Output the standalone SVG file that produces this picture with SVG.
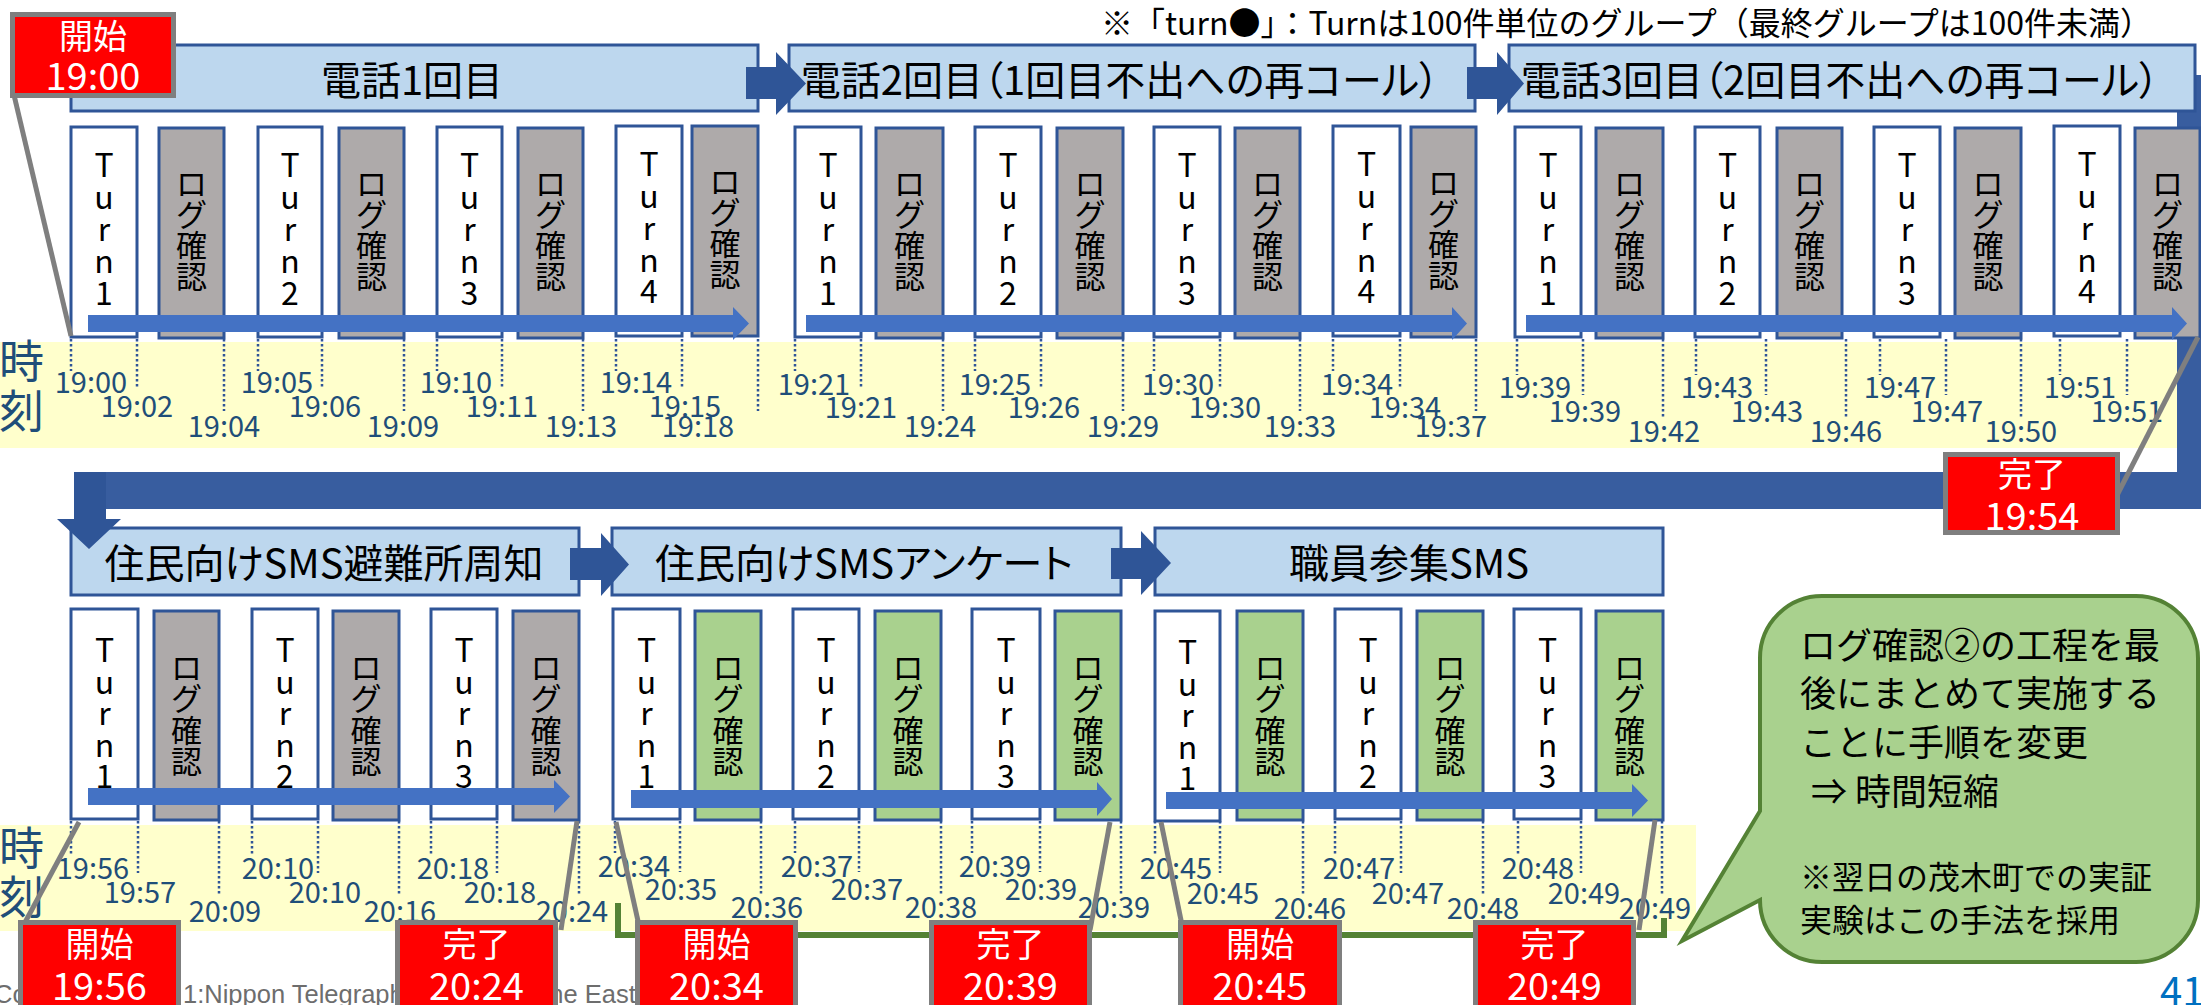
<svg xmlns="http://www.w3.org/2000/svg" width="2201" height="1005" viewBox="0 0 2201 1005">
<defs>
<style>
text{font-family:"Noto Sans CJK JP","Noto Sans",sans-serif}
.hdr{fill:#bdd7ee;stroke:#2f5597;stroke-width:3}
.ht{font-size:40px;text-anchor:middle;fill:#000;font-feature-settings:"palt" 1}
.turn{fill:#fff;stroke:#2f5597;stroke-width:3}
.lg{fill:#aeaaaa;stroke:#2f5597;stroke-width:3}
.lgg{fill:#a9d18e;stroke:#2f5597;stroke-width:3}
.bt{font-size:32px;text-anchor:middle;fill:#000}
.lt{font-size:31px;text-anchor:middle;fill:#000}
.tm{font-size:29px;text-anchor:middle;fill:#1f4e79}
.guide{stroke:#2f5597;stroke-width:2.5;stroke-dasharray:2.5 2.5;fill:none}
.band{fill:#ffffcc}
.jk{font-size:45px;fill:#1f4e79}
.blk{fill:#2f5597}
.trunk{fill:#385d9f}
.flow{fill:#4472c4}
.lead{stroke:#7f7f7f;stroke-width:5;fill:none}
.mk rect{fill:#ff0000;stroke:#7f7f7f;stroke-width:5}
.mk text{fill:#fff;text-anchor:middle}
.m1{font-size:34px}
.m2{font-size:38px}
.co{fill:#000}
</style>
</defs>

<rect x="0" y="0" width="2201" height="1005" fill="#fff"/>

<!-- time bands -->
<g id="bands">
<rect class="band" x="0" y="342" width="2177" height="106"/>
<rect class="band" x="0" y="825" width="1696" height="106"/>
<text class="jk" x="-1" y="378">時</text>
<text class="jk" x="-1" y="428">刻</text>
<text class="jk" x="-1" y="865">時</text>
<text class="jk" x="-1" y="914">刻</text>
</g>

<text y="1003" style="font-family:'Liberation Sans',sans-serif;font-size:25.5px;fill:#6d6d6d"><tspan x="-6">Copyright © 202</tspan><tspan x="183">1:Nippon Telegraph and Telephone East Corporation</tspan></text>

<!-- bent connector trunk from the phone row to the SMS row -->
<g id="connectors-back">
<path class="trunk" d="M2177,75 H2201 V509 H74 V472 H2177 Z"/>
</g>

<!-- dotted time guides -->
<g id="guides" class="guide">
<path d="M71,339V371M258,339V371M437,339V371M616,339V371M137,339V389M322,339V389M502,339V389M682,339V389M224,339V411M404,339V411M583,339V411M758,339V411"/>
<path d="M795,339V371M975,339V371M1154,339V371M1333,339V371M861,339V389M1041,339V389M1220,339V389M1400,339V389M943,339V411M1123,339V411M1300,339V411M1476,339V411"/>
<path d="M1517,339V375M1696,339V375M1880,339V375M2060,339V375M1583,339V395M1766,339V395M1946,339V395M2127,339V395M1663,339V417M1846,339V417M2021,339V417"/>
<path d="M71,821V855M252,821V855M431,821V855M138,821V873M318,821V873M497,821V873M219,821V896M399,821V896M579,821V896"/>
<path d="M615,821V853M795,821V853M972,821V853M680,821V872M859,821V872M1040,821V872M761,821V895M941,821V895M1121,821V895"/>
<path d="M1155,821V855M1335,821V855M1518,821V855M1220,821V873M1401,821V873M1581,821V873M1303,821V896M1483,821V896M1662,821V896"/>
</g>

<!-- time stamps -->
<g id="times">
<text class="tm" x="91" y="393">19:00</text>
<text class="tm" x="277" y="393">19:05</text>
<text class="tm" x="456" y="393">19:10</text>
<text class="tm" x="636" y="393">19:14</text>
<text class="tm" x="137" y="417">19:02</text>
<text class="tm" x="325" y="417">19:06</text>
<text class="tm" x="502" y="417">19:11</text>
<text class="tm" x="685" y="417">19:15</text>
<text class="tm" x="224" y="437">19:04</text>
<text class="tm" x="403" y="437">19:09</text>
<text class="tm" x="581" y="437">19:13</text>
<text class="tm" x="698" y="437">19:18</text>

<text class="tm" x="814" y="395">19:21</text>
<text class="tm" x="995" y="395">19:25</text>
<text class="tm" x="1178" y="395">19:30</text>
<text class="tm" x="1357" y="395">19:34</text>
<text class="tm" x="861" y="418">19:21</text>
<text class="tm" x="1044" y="418">19:26</text>
<text class="tm" x="1225" y="418">19:30</text>
<text class="tm" x="1405" y="418">19:34</text>
<text class="tm" x="940" y="437">19:24</text>
<text class="tm" x="1123" y="437">19:29</text>
<text class="tm" x="1300" y="437">19:33</text>
<text class="tm" x="1451" y="437">19:37</text>

<text class="tm" x="1535" y="398">19:39</text>
<text class="tm" x="1717" y="398">19:43</text>
<text class="tm" x="1900" y="398">19:47</text>
<text class="tm" x="2080" y="398">19:51</text>
<text class="tm" x="1585" y="422">19:39</text>
<text class="tm" x="1767" y="422">19:43</text>
<text class="tm" x="1947" y="422">19:47</text>
<text class="tm" x="2127" y="422">19:51</text>
<text class="tm" x="1664" y="442">19:42</text>
<text class="tm" x="1846" y="442">19:46</text>
<text class="tm" x="2021" y="442">19:50</text>

<text class="tm" x="93" y="879">19:56</text>
<text class="tm" x="278" y="879">20:10</text>
<text class="tm" x="453" y="879">20:18</text>
<text class="tm" x="140" y="903">19:57</text>
<text class="tm" x="325" y="903">20:10</text>
<text class="tm" x="500" y="903">20:18</text>
<text class="tm" x="225" y="922">20:09</text>
<text class="tm" x="400" y="922">20:16</text>
<text class="tm" x="572" y="922">20:24</text>

<text class="tm" x="634" y="877">20:34</text>
<text class="tm" x="817" y="877">20:37</text>
<text class="tm" x="995" y="877">20:39</text>
<text class="tm" x="681" y="900">20:35</text>
<text class="tm" x="867" y="900">20:37</text>
<text class="tm" x="1041" y="900">20:39</text>
<text class="tm" x="767" y="918">20:36</text>
<text class="tm" x="941" y="918">20:38</text>
<text class="tm" x="1114" y="918">20:39</text>

<text class="tm" x="1176" y="879">20:45</text>
<text class="tm" x="1359" y="879">20:47</text>
<text class="tm" x="1538" y="879">20:48</text>
<text class="tm" x="1223" y="904">20:45</text>
<text class="tm" x="1408" y="904">20:47</text>
<text class="tm" x="1584" y="904">20:49</text>
<text class="tm" x="1310" y="919">20:46</text>
<text class="tm" x="1483" y="919">20:48</text>
<text class="tm" x="1655" y="919">20:49</text>
</g>

<!-- phase headers -->
<g id="call1"><rect class="hdr" x="71" y="45" width="687" height="66"/><text class="ht" x="412" y="95">電話1回目</text></g>
<g id="call2"><rect class="hdr" x="789" y="45" width="686" height="66"/><text class="ht" x="1120" y="95">電話2回目（1回目不出への再コール）</text></g>
<g id="call3"><rect class="hdr" x="1509" y="45" width="686" height="66"/><text class="ht" x="1840" y="95">電話3回目（2回目不出への再コール）</text></g>
<g id="sms-shelter"><rect class="hdr" x="71" y="528" width="508" height="67"/><text class="ht" x="324" y="578">住民向けSMS避難所周知</text></g>
<g id="sms-survey"><rect class="hdr" x="612" y="528" width="509" height="67"/><text class="ht" x="864" y="578">住民向けSMSアンケート</text></g>
<g id="sms-staff"><rect class="hdr" x="1155" y="528" width="508" height="67"/><text class="ht" x="1409" y="578">職員参集SMS</text></g>

<!-- call round 1 -->
<g id="c1-turn1"><rect class="turn" x="71" y="127" width="66" height="210"/><text class="bt"><tspan x="104" y="177">T</tspan><tspan x="104" y="209">u</tspan><tspan x="104" y="241">r</tspan><tspan x="104" y="273">n</tspan><tspan x="104" y="305">1</tspan></text></g>
<g id="c1-log1"><rect class="lg" x="159" y="128" width="65" height="210"/><text class="lt"><tspan x="191.5" y="195">ロ</tspan><tspan x="191.5" y="226">グ</tspan><tspan x="191.5" y="257">確</tspan><tspan x="191.5" y="288">認</tspan></text></g>
<g id="c1-turn2"><rect class="turn" x="258" y="127" width="64" height="210"/><text class="bt"><tspan x="290" y="177">T</tspan><tspan x="290" y="209">u</tspan><tspan x="290" y="241">r</tspan><tspan x="290" y="273">n</tspan><tspan x="290" y="305">2</tspan></text></g>
<g id="c1-log2"><rect class="lg" x="339" y="128" width="65" height="210"/><text class="lt"><tspan x="371.5" y="195">ロ</tspan><tspan x="371.5" y="226">グ</tspan><tspan x="371.5" y="257">確</tspan><tspan x="371.5" y="288">認</tspan></text></g>
<g id="c1-turn3"><rect class="turn" x="437" y="127" width="65" height="210"/><text class="bt"><tspan x="469.5" y="177">T</tspan><tspan x="469.5" y="209">u</tspan><tspan x="469.5" y="241">r</tspan><tspan x="469.5" y="273">n</tspan><tspan x="469.5" y="305">3</tspan></text></g>
<g id="c1-log3"><rect class="lg" x="518" y="128" width="65" height="210"/><text class="lt"><tspan x="550.5" y="195">ロ</tspan><tspan x="550.5" y="226">グ</tspan><tspan x="550.5" y="257">確</tspan><tspan x="550.5" y="288">認</tspan></text></g>
<g id="c1-turn4"><rect class="turn" x="616" y="126" width="66" height="210"/><text class="bt"><tspan x="649" y="176">T</tspan><tspan x="649" y="208">u</tspan><tspan x="649" y="240">r</tspan><tspan x="649" y="272">n</tspan><tspan x="649" y="303">4</tspan></text></g>
<g id="c1-log4"><rect class="lg" x="692" y="126" width="66" height="210"/><text class="lt"><tspan x="725" y="193">ロ</tspan><tspan x="725" y="224">グ</tspan><tspan x="725" y="255">確</tspan><tspan x="725" y="286">認</tspan></text></g>

<!-- call round 2 -->
<g id="c2-turn1"><rect class="turn" x="795" y="127" width="66" height="210"/><text class="bt"><tspan x="828" y="177">T</tspan><tspan x="828" y="209">u</tspan><tspan x="828" y="241">r</tspan><tspan x="828" y="273">n</tspan><tspan x="828" y="305">1</tspan></text></g>
<g id="c2-log1"><rect class="lg" x="876" y="128" width="67" height="210"/><text class="lt"><tspan x="909.5" y="195">ロ</tspan><tspan x="909.5" y="226">グ</tspan><tspan x="909.5" y="257">確</tspan><tspan x="909.5" y="288">認</tspan></text></g>
<g id="c2-turn2"><rect class="turn" x="975" y="127" width="66" height="210"/><text class="bt"><tspan x="1008" y="177">T</tspan><tspan x="1008" y="209">u</tspan><tspan x="1008" y="241">r</tspan><tspan x="1008" y="273">n</tspan><tspan x="1008" y="305">2</tspan></text></g>
<g id="c2-log2"><rect class="lg" x="1057" y="128" width="66" height="210"/><text class="lt"><tspan x="1090" y="195">ロ</tspan><tspan x="1090" y="226">グ</tspan><tspan x="1090" y="257">確</tspan><tspan x="1090" y="288">認</tspan></text></g>
<g id="c2-turn3"><rect class="turn" x="1154" y="127" width="66" height="210"/><text class="bt"><tspan x="1187" y="177">T</tspan><tspan x="1187" y="209">u</tspan><tspan x="1187" y="241">r</tspan><tspan x="1187" y="273">n</tspan><tspan x="1187" y="305">3</tspan></text></g>
<g id="c2-log3"><rect class="lg" x="1235" y="128" width="65" height="210"/><text class="lt"><tspan x="1267.5" y="195">ロ</tspan><tspan x="1267.5" y="226">グ</tspan><tspan x="1267.5" y="257">確</tspan><tspan x="1267.5" y="288">認</tspan></text></g>
<g id="c2-turn4"><rect class="turn" x="1333" y="126" width="67" height="210"/><text class="bt"><tspan x="1366.5" y="176">T</tspan><tspan x="1366.5" y="208">u</tspan><tspan x="1366.5" y="240">r</tspan><tspan x="1366.5" y="272">n</tspan><tspan x="1366.5" y="303">4</tspan></text></g>
<g id="c2-log4"><rect class="lg" x="1411" y="127" width="65" height="210"/><text class="lt"><tspan x="1443.5" y="194">ロ</tspan><tspan x="1443.5" y="225">グ</tspan><tspan x="1443.5" y="256">確</tspan><tspan x="1443.5" y="287">認</tspan></text></g>

<!-- call round 3 -->
<g id="c3-turn1"><rect class="turn" x="1515" y="127" width="66" height="210"/><text class="bt"><tspan x="1548" y="177">T</tspan><tspan x="1548" y="209">u</tspan><tspan x="1548" y="241">r</tspan><tspan x="1548" y="273">n</tspan><tspan x="1548" y="305">1</tspan></text></g>
<g id="c3-log1"><rect class="lg" x="1596" y="128" width="67" height="210"/><text class="lt"><tspan x="1629.5" y="195">ロ</tspan><tspan x="1629.5" y="226">グ</tspan><tspan x="1629.5" y="257">確</tspan><tspan x="1629.5" y="288">認</tspan></text></g>
<g id="c3-turn2"><rect class="turn" x="1695" y="127" width="65" height="210"/><text class="bt"><tspan x="1727.5" y="177">T</tspan><tspan x="1727.5" y="209">u</tspan><tspan x="1727.5" y="241">r</tspan><tspan x="1727.5" y="273">n</tspan><tspan x="1727.5" y="305">2</tspan></text></g>
<g id="c3-log2"><rect class="lg" x="1777" y="128" width="65" height="210"/><text class="lt"><tspan x="1809.5" y="195">ロ</tspan><tspan x="1809.5" y="226">グ</tspan><tspan x="1809.5" y="257">確</tspan><tspan x="1809.5" y="288">認</tspan></text></g>
<g id="c3-turn3"><rect class="turn" x="1874" y="127" width="66" height="210"/><text class="bt"><tspan x="1907" y="177">T</tspan><tspan x="1907" y="209">u</tspan><tspan x="1907" y="241">r</tspan><tspan x="1907" y="273">n</tspan><tspan x="1907" y="305">3</tspan></text></g>
<g id="c3-log3"><rect class="lg" x="1955" y="128" width="66" height="210"/><text class="lt"><tspan x="1988" y="195">ロ</tspan><tspan x="1988" y="226">グ</tspan><tspan x="1988" y="257">確</tspan><tspan x="1988" y="288">認</tspan></text></g>
<g id="c3-turn4"><rect class="turn" x="2054" y="126" width="66" height="210"/><text class="bt"><tspan x="2087" y="176">T</tspan><tspan x="2087" y="208">u</tspan><tspan x="2087" y="240">r</tspan><tspan x="2087" y="272">n</tspan><tspan x="2087" y="303">4</tspan></text></g>
<g id="c3-log4"><rect class="lg" x="2135" y="128" width="65" height="210"/><text class="lt"><tspan x="2167.5" y="195">ロ</tspan><tspan x="2167.5" y="226">グ</tspan><tspan x="2167.5" y="257">確</tspan><tspan x="2167.5" y="288">認</tspan></text></g>

<!-- SMS: shelter notice -->
<g id="s1-turn1"><rect class="turn" x="71" y="609" width="67" height="210"/><text class="bt"><tspan x="104.5" y="662">T</tspan><tspan x="104.5" y="694">u</tspan><tspan x="104.5" y="725">r</tspan><tspan x="104.5" y="757">n</tspan><tspan x="104.5" y="788">1</tspan></text></g>
<g id="s1-log1"><rect class="lg" x="154" y="611" width="65" height="209"/><text class="lt"><tspan x="186.5" y="679">ロ</tspan><tspan x="186.5" y="710">グ</tspan><tspan x="186.5" y="742">確</tspan><tspan x="186.5" y="773">認</tspan></text></g>
<g id="s1-turn2"><rect class="turn" x="252" y="609" width="66" height="210"/><text class="bt"><tspan x="285" y="662">T</tspan><tspan x="285" y="694">u</tspan><tspan x="285" y="725">r</tspan><tspan x="285" y="757">n</tspan><tspan x="285" y="788">2</tspan></text></g>
<g id="s1-log2"><rect class="lg" x="333" y="611" width="66" height="209"/><text class="lt"><tspan x="366" y="679">ロ</tspan><tspan x="366" y="710">グ</tspan><tspan x="366" y="742">確</tspan><tspan x="366" y="773">認</tspan></text></g>
<g id="s1-turn3"><rect class="turn" x="431" y="609" width="66" height="210"/><text class="bt"><tspan x="464" y="662">T</tspan><tspan x="464" y="694">u</tspan><tspan x="464" y="725">r</tspan><tspan x="464" y="757">n</tspan><tspan x="464" y="788">3</tspan></text></g>
<g id="s1-log3"><rect class="lg" x="513" y="611" width="66" height="209"/><text class="lt"><tspan x="546" y="679">ロ</tspan><tspan x="546" y="710">グ</tspan><tspan x="546" y="742">確</tspan><tspan x="546" y="773">認</tspan></text></g>

<!-- SMS: survey -->
<g id="s2-turn1"><rect class="turn" x="613" y="609" width="67" height="210"/><text class="bt"><tspan x="646.5" y="662">T</tspan><tspan x="646.5" y="694">u</tspan><tspan x="646.5" y="725">r</tspan><tspan x="646.5" y="757">n</tspan><tspan x="646.5" y="788">1</tspan></text></g>
<g id="s2-log1"><rect class="lgg" x="695" y="611" width="66" height="209"/><text class="lt"><tspan x="728" y="679">ロ</tspan><tspan x="728" y="710">グ</tspan><tspan x="728" y="742">確</tspan><tspan x="728" y="773">認</tspan></text></g>
<g id="s2-turn2"><rect class="turn" x="793" y="609" width="66" height="210"/><text class="bt"><tspan x="826" y="662">T</tspan><tspan x="826" y="694">u</tspan><tspan x="826" y="725">r</tspan><tspan x="826" y="757">n</tspan><tspan x="826" y="788">2</tspan></text></g>
<g id="s2-log2"><rect class="lgg" x="875" y="611" width="66" height="209"/><text class="lt"><tspan x="908" y="679">ロ</tspan><tspan x="908" y="710">グ</tspan><tspan x="908" y="742">確</tspan><tspan x="908" y="773">認</tspan></text></g>
<g id="s2-turn3"><rect class="turn" x="972" y="609" width="68" height="210"/><text class="bt"><tspan x="1006" y="662">T</tspan><tspan x="1006" y="694">u</tspan><tspan x="1006" y="725">r</tspan><tspan x="1006" y="757">n</tspan><tspan x="1006" y="788">3</tspan></text></g>
<g id="s2-log3"><rect class="lgg" x="1055" y="611" width="66" height="209"/><text class="lt"><tspan x="1088" y="679">ロ</tspan><tspan x="1088" y="710">グ</tspan><tspan x="1088" y="742">確</tspan><tspan x="1088" y="773">認</tspan></text></g>

<!-- SMS: staff call-up -->
<g id="s3-turn1"><rect class="turn" x="1155" y="611" width="65" height="210"/><text class="bt"><tspan x="1187.5" y="664">T</tspan><tspan x="1187.5" y="696">u</tspan><tspan x="1187.5" y="727">r</tspan><tspan x="1187.5" y="759">n</tspan><tspan x="1187.5" y="790">1</tspan></text></g>
<g id="s3-log1"><rect class="lgg" x="1237" y="611" width="66" height="209"/><text class="lt"><tspan x="1270" y="679">ロ</tspan><tspan x="1270" y="710">グ</tspan><tspan x="1270" y="742">確</tspan><tspan x="1270" y="773">認</tspan></text></g>
<g id="s3-turn2"><rect class="turn" x="1335" y="609" width="66" height="210"/><text class="bt"><tspan x="1368" y="662">T</tspan><tspan x="1368" y="694">u</tspan><tspan x="1368" y="725">r</tspan><tspan x="1368" y="757">n</tspan><tspan x="1368" y="788">2</tspan></text></g>
<g id="s3-log2"><rect class="lgg" x="1417" y="611" width="66" height="209"/><text class="lt"><tspan x="1450" y="679">ロ</tspan><tspan x="1450" y="710">グ</tspan><tspan x="1450" y="742">確</tspan><tspan x="1450" y="773">認</tspan></text></g>
<g id="s3-turn3"><rect class="turn" x="1514" y="609" width="67" height="210"/><text class="bt"><tspan x="1547.5" y="662">T</tspan><tspan x="1547.5" y="694">u</tspan><tspan x="1547.5" y="725">r</tspan><tspan x="1547.5" y="757">n</tspan><tspan x="1547.5" y="788">3</tspan></text></g>
<g id="s3-log3"><rect class="lgg" x="1596" y="611" width="67" height="209"/><text class="lt"><tspan x="1629.5" y="679">ロ</tspan><tspan x="1629.5" y="710">グ</tspan><tspan x="1629.5" y="742">確</tspan><tspan x="1629.5" y="773">認</tspan></text></g>

<!-- connectors -->
<g id="connectors">
<path class="blk" d="M746,67 H776 V52 L806,83.5 L776,115 V99 H746 Z"/>
<path class="blk" d="M1467,67 H1497 V52 L1524,83.5 L1497,115 V99 H1467 Z"/>
<path class="blk" d="M570,548 H601 V533 L629,564.5 L601,596 V580 H570 Z"/>
<path class="blk" d="M1111,548 H1141 V531 L1171,563 L1141,595 V579 H1111 Z"/>
<path class="blk" d="M74,472 H106 V519 H121 L89,549 L57,519 H74 Z"/>
<path class="flow" d="M88,315 H733 V307 L749,323.5 L733,340 V332 H88 Z"/>
<path class="flow" d="M806,315 H1452 V307 L1467,323.5 L1452,340 V332 H806 Z"/>
<path class="flow" d="M1526,315 H2172 V307 L2187,323.5 L2172,340 V332 H1526 Z"/>
<path class="flow" d="M88,788 H554 V780 L570,796.5 L554,813 V805 H88 Z"/>
<path class="flow" d="M631,790 H1097 V782 L1112,799 L1097,816 V808 H631 Z"/>
<path class="flow" d="M1166,792 H1632 V784 L1648,800.5 L1632,817 V809 H1166 Z"/>
<path class="lead" d="M14,95 L71,336"/>
<path class="lead" d="M2198,337 L2112,505"/>
<path class="lead" d="M79,822 L22,928"/>
<path class="lead" d="M577,821 L561,930"/>
<path class="lead" d="M616,822 L640,930"/>
<path class="lead" d="M1110,822 L1090,930"/>
<path class="lead" d="M1161,822 L1183,930"/>
<path class="lead" d="M1655,820 L1639,930"/>
<path d="M618,903 V935 H1664 V918" fill="none" stroke="#548235" stroke-width="6"/>
</g>

<!-- start / finish markers -->
<g id="start-1900" class="mk"><rect x="12.5" y="14.5" width="161" height="81"/><text class="m1" x="93" y="49">開始</text><text class="m2" x="93" y="90">19:00</text></g>
<g id="end-1954" class="mk"><rect x="1945.5" y="454.5" width="172" height="78"/><text class="m1" x="2032" y="487">完了</text><text class="m2" x="2032" y="530">19:54</text></g>
<g id="start-1956" class="mk"><rect x="20.5" y="922.5" width="158" height="100"/><text class="m1" x="99.5" y="957">開始</text><text class="m2" x="99.5" y="1000">19:56</text></g>
<g id="end-2024" class="mk"><rect x="397.5" y="922.5" width="158" height="100"/><text class="m1" x="476.5" y="957">完了</text><text class="m2" x="476.5" y="1000">20:24</text></g>
<g id="start-2034" class="mk"><rect x="637.5" y="922.5" width="158" height="100"/><text class="m1" x="716.5" y="957">開始</text><text class="m2" x="716.5" y="1000">20:34</text></g>
<g id="end-2039" class="mk"><rect x="931.5" y="922.5" width="158" height="100"/><text class="m1" x="1010.5" y="957">完了</text><text class="m2" x="1010.5" y="1000">20:39</text></g>
<g id="start-2045" class="mk"><rect x="1180.5" y="922.5" width="159" height="100"/><text class="m1" x="1260" y="957">開始</text><text class="m2" x="1260" y="1000">20:45</text></g>
<g id="end-2049" class="mk"><rect x="1475.5" y="922.5" width="158" height="100"/><text class="m1" x="1554.5" y="957">完了</text><text class="m2" x="1554.5" y="1000">20:49</text></g>

<!-- callout -->
<g id="callout">
<path d="M1822,596 H2136 A62,62 0 0 1 2198,658 V900 A62,62 0 0 1 2136,962 H1822 A62,62 0 0 1 1760,900 L1682,941 L1760,811 V658 A62,62 0 0 1 1822,596 Z" fill="#a9d18e" stroke="#548235" stroke-width="4"/>
<text class="co" font-size="36" x="1800" y="659">ログ確認②の工程を最</text>
<text class="co" font-size="36" x="1800" y="707">後にまとめて実施する</text>
<text class="co" font-size="36" x="1800" y="756">ことに手順を変更</text>
<text class="co" font-size="36" x="1811" y="805">⇒ 時間短縮</text>
<text class="co" font-size="32" x="1800" y="889">※翌日の茂木町での実証</text>
<text class="co" font-size="32" x="1800" y="932">実験はこの手法を採用</text>
</g>

<text x="2152" y="35" font-size="32" text-anchor="end" fill="#000">※「turn●」：Turnは100件単位のグループ（最終グループは100件未満）</text>
<text x="2160" y="1006" font-size="40" fill="#0070c0">41</text>
</svg>
